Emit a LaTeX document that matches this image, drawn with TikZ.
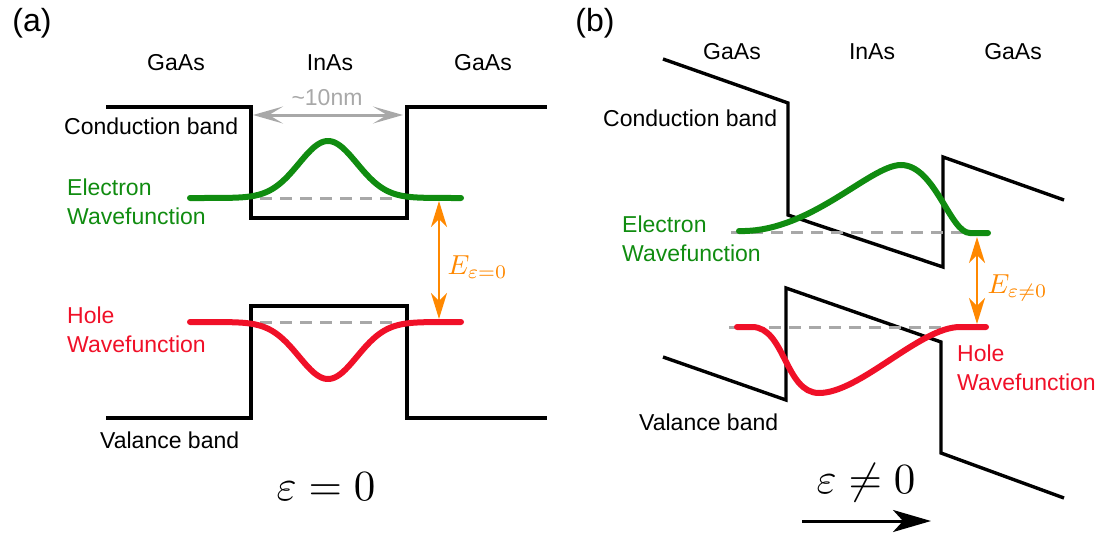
\documentclass[tikz,border=0pt]{standalone}
\usepackage{fontspec}
\setmainfont{Liberation Sans}
\usetikzlibrary{arrows.meta}
\definecolor{wgreen}{RGB}{16,140,16}
\definecolor{wred}{RGB}{240,16,40}
\definecolor{eorange}{RGB}{255,136,0}
\definecolor{lgray}{RGB}{168,168,168}
\begin{document}
\begin{tikzpicture}[x=1pt,y=-1pt,
  band/.style={line width=3.4pt, line join=miter},
  wave/.style={line width=6pt, line cap=round},
  lvl/.style={line width=3pt, dash pattern=on 12pt off 8pt, color=lgray},
  lbl/.style={inner sep=0pt, font=\fontsize{23}{27}\selectfont},
  panel/.style={inner sep=0pt, font=\fontsize{32}{36}\selectfont},
  biglbl/.style={inner sep=0pt, font=\fontsize{10}{12}\selectfont, transform shape, scale=4.3},
  elbl/.style={inner sep=0pt, text=eorange, font=\fontsize{10}{12}\selectfont, transform shape, scale=2.75},
  gap/.style={draw=eorange, line width=2.5pt, {Stealth[length=26pt 0,width=16pt 0,inset=8pt 0]}-{Stealth[length=26pt 0,width=16pt 0,inset=8pt 0]}},
  widthmark/.style={draw=lgray, line width=3pt, {Stealth[length=30pt 0,width=17pt 0,inset=14pt 0]}-{Stealth[length=30pt 0,width=17pt 0,inset=14pt 0]}},
  field/.style={draw=black, line width=3pt, -{Stealth[length=38pt 0,width=22pt 0,inset=10pt 0]}}]
\useasboundingbox (0,0) rectangle (1102,538);

% ---------------- panel (a) ----------------
\node[panel] (pa) at (32,23) {(a)};
\node[lbl] (ga1) at (176,63) {GaAs};
\node[lbl] (ia1) at (330,63) {InAs};
\node[lbl] (ga2) at (483,63) {GaAs};

% conduction band
\draw[band] (106,107) -- (251,107) -- (251,218) -- (407,218) -- (407,107) -- (547,107);
% valence band
\draw[band] (106,418) -- (251,418) -- (251,306) -- (407,306) -- (407,418) -- (547,418);

% width marker
\coordinate (wl) at (253,115);
\coordinate (wr) at (403,115);
\draw[widthmark] (wl) -- (wr);
\node[lbl, text=lgray] (wd) at (327,98) {\textasciitilde10nm};

\node[lbl, anchor=west] (cba) at (64,126) {Conduction band};
\node[lbl, anchor=west] (vba) at (100,440) {Valance band};

% levels
\draw[lvl] (260,198) -- (396,198);
\draw[lvl] (260,322) -- (396,322);

% wavefunctions
\draw[wave, wgreen] plot[domain=190:461, samples=120, smooth] (\x, {198-57*exp(-((\x-328)/41)^2)});
\draw[wave, wred] plot[domain=190:461, samples=120, smooth] (\x, {322+57*exp(-((\x-328)/41)^2)});

\node[lbl, anchor=west, text=wgreen] (ela) at (67,187) {Electron};
\node[lbl, anchor=west, text=wgreen] (ewa) at (67,216) {Wavefunction};
\node[lbl, anchor=west, text=wred] (hla) at (67,315) {Hole};
\node[lbl, anchor=west, text=wred] (hwa) at (67,344) {Wavefunction};

% transition energy
\coordinate (ea1) at (439,201);
\coordinate (ea2) at (439,319);
\draw[gap] (ea1) -- (ea2);
\node[elbl, anchor=west] (ea) at (447,267) {$E_{\varepsilon=0}$};

\node[biglbl] (fa) at (326,487) {$\varepsilon=0$};

% ---------------- panel (b) ----------------
\node[panel] (pb) at (595,23) {(b)};
\node[lbl] (gb1) at (732,52) {GaAs};
\node[lbl] (ib1) at (872,52) {InAs};
\node[lbl] (gb2) at (1013,52) {GaAs};

% conduction band
\draw[band] (663,59) -- (788,103) -- (788,215) -- (943,267) -- (943,157) -- (1064,200);
% valence band
\draw[band] (663,357) -- (786,400) -- (786,288) -- (941,342) -- (941,453) -- (1064,498);

\node[lbl, anchor=west] (cbb) at (603,118) {Conduction band};
\node[lbl, anchor=west] (vbb) at (639,422) {Valance band};

% levels
\draw[lvl] (731,232) -- (975,232);
\draw[lvl] (729,327) -- (975,327);

% wavefunctions
\draw[wave, wgreen] (739,231) .. controls (810,233) and (870,165) .. (901,165)
   .. controls (935,165) and (950,233) .. (970,233) -- (988,233);
\draw[wave, wred] (737,327) -- (752,327) .. controls (785,327) and (785,393) .. (819,393)
   .. controls (860,393) and (920,327) .. (960,327) -- (986,327);

\node[lbl, anchor=west, text=wgreen] (elb) at (622,224) {Electron};
\node[lbl, anchor=west, text=wgreen] (ewb) at (622,253) {Wavefunction};
\node[lbl, anchor=west, text=wred] (hlb) at (957,353) {Hole};
\node[lbl, anchor=west, text=wred] (hwb) at (957,382) {Wavefunction};

% transition energy
\coordinate (eb1) at (977,237);
\coordinate (eb2) at (977,324);
\draw[gap] (eb1) -- (eb2);
\node[elbl, anchor=west] (eb) at (987,288) {$E_{\varepsilon\neq0}$};

\node[biglbl] (fb) at (866,483) {$\varepsilon\neq0$};
\coordinate (fs) at (802,521);
\coordinate (fe) at (931,521);
\draw[field] (fs) -- (fe);
\end{tikzpicture}
\end{document}
